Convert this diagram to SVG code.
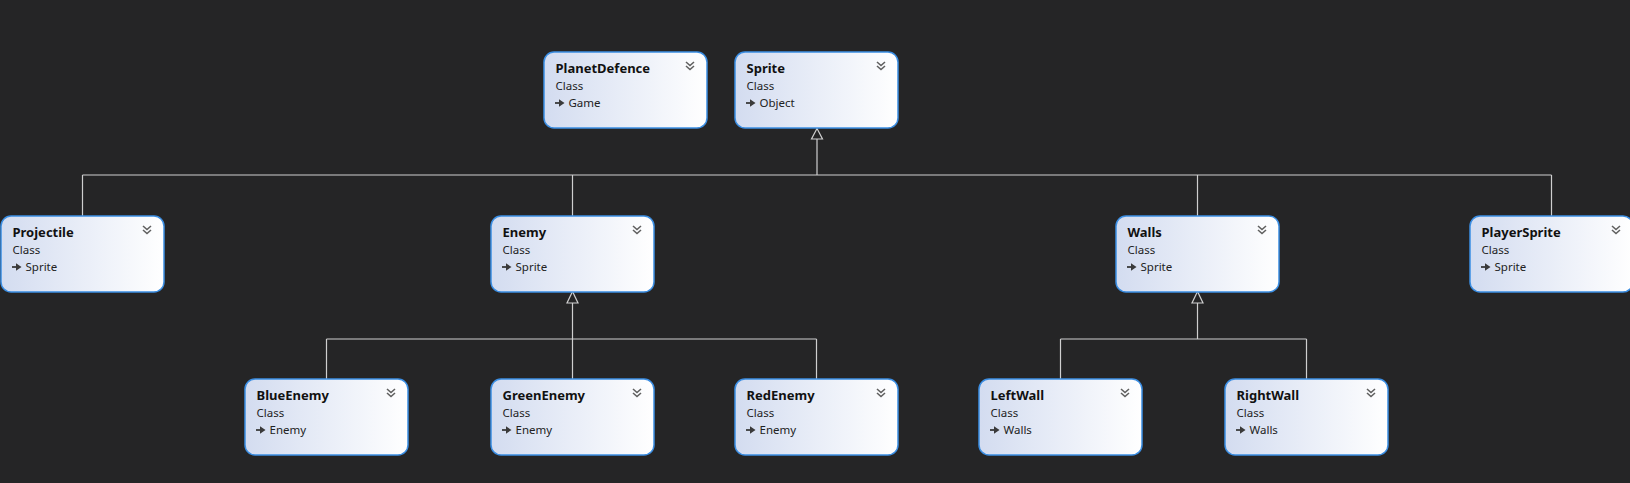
<svg xmlns="http://www.w3.org/2000/svg" width="1630" height="483" viewBox="0 0 1630 483">
<defs>
<linearGradient id="g" x1="0" y1="0" x2="1" y2="0">
<stop offset="0" stop-color="#d3dcf0"/>
<stop offset="1" stop-color="#ffffff"/>
</linearGradient>
<symbol id="chev" viewBox="0 0 10 10" overflow="visible">
<polyline points="0,0 4,3.5 8,0" fill="none" stroke="#606060" stroke-width="1.6"/>
<polyline points="0,4 4,7.5 8,4" fill="none" stroke="#606060" stroke-width="1.6"/>
</symbol>
<symbol id="arr" viewBox="0 0 10 10" overflow="visible">
<path d="M0,4.5 H5" stroke="#3a3a3a" stroke-width="1.8"/>
<path d="M4,0.8 L9.5,4.5 L4,8.2 Z" fill="#3a3a3a"/>
</symbol>
</defs>
<style>
.box{fill:url(#g);stroke:#3b8ee3;stroke-width:1.5}
.t{font-family:"Noto Sans","Open Sans",sans-serif;font-size:13px;font-weight:bold;fill:#111}
.s{font-family:"Noto Sans","Open Sans",sans-serif;font-size:11.5px;fill:#222}
.ln{fill:none;stroke:#cfcfcf;stroke-width:1.2}
.tri{fill:#252526;stroke:#cfcfcf;stroke-width:1.2}
</style>
<rect width="1630" height="483" fill="#252526"/>
<g id="connectors">
<path class="ln" d="M817,139 V175 M82.5,175 H1551.5 M82.5,175 V216 M572.5,175 V216 M1197.5,175 V216 M1551.5,175 V216"/>
<polygon class="tri" points="817,128.5 811.5,139 822.5,139"/>
<path class="ln" d="M572.5,303 V379 M326.5,339 H816.5 M326.5,339 V379 M816.5,339 V379"/>
<polygon class="tri" points="572.5,291.5 567,303 578,303"/>
<path class="ln" d="M1197.5,303 V339 M1060.5,339 H1306.5 M1060.5,339 V379 M1306.5,339 V379"/>
<polygon class="tri" points="1197.5,291.5 1192,303 1203,303"/>
</g>
<g id="PlanetDefence" transform="translate(544,52)">
<rect class="box" width="163" height="76" rx="10"/>
<text class="t" x="11.5" y="20.5">PlanetDefence</text>
<text class="s" x="11.5" y="37.5">Class</text>
<use href="#arr" x="11" y="46.5" width="10" height="10"/>
<text class="s" x="24.5" y="55">Game</text>
<use href="#chev" x="142" y="10" width="10" height="10"/>
</g>
<g id="Sprite" transform="translate(735,52)">
<rect class="box" width="163" height="76" rx="10"/>
<text class="t" x="11.5" y="20.5">Sprite</text>
<text class="s" x="11.5" y="37.5">Class</text>
<use href="#arr" x="11" y="46.5" width="10" height="10"/>
<text class="s" x="24.5" y="55">Object</text>
<use href="#chev" x="142" y="10" width="10" height="10"/>
</g>
<g id="Projectile" transform="translate(1,216)">
<rect class="box" width="163" height="76" rx="10"/>
<text class="t" x="11.5" y="20.5">Projectile</text>
<text class="s" x="11.5" y="37.5">Class</text>
<use href="#arr" x="11" y="46.5" width="10" height="10"/>
<text class="s" x="24.5" y="55">Sprite</text>
<use href="#chev" x="142" y="10" width="10" height="10"/>
</g>
<g id="Enemy" transform="translate(491,216)">
<rect class="box" width="163" height="76" rx="10"/>
<text class="t" x="11.5" y="20.5">Enemy</text>
<text class="s" x="11.5" y="37.5">Class</text>
<use href="#arr" x="11" y="46.5" width="10" height="10"/>
<text class="s" x="24.5" y="55">Sprite</text>
<use href="#chev" x="142" y="10" width="10" height="10"/>
</g>
<g id="Walls" transform="translate(1116,216)">
<rect class="box" width="163" height="76" rx="10"/>
<text class="t" x="11.5" y="20.5">Walls</text>
<text class="s" x="11.5" y="37.5">Class</text>
<use href="#arr" x="11" y="46.5" width="10" height="10"/>
<text class="s" x="24.5" y="55">Sprite</text>
<use href="#chev" x="142" y="10" width="10" height="10"/>
</g>
<g id="PlayerSprite" transform="translate(1470,216)">
<rect class="box" width="163" height="76" rx="10"/>
<text class="t" x="11.5" y="20.5">PlayerSprite</text>
<text class="s" x="11.5" y="37.5">Class</text>
<use href="#arr" x="11" y="46.5" width="10" height="10"/>
<text class="s" x="24.5" y="55">Sprite</text>
<use href="#chev" x="142" y="10" width="10" height="10"/>
</g>
<g id="BlueEnemy" transform="translate(245,379)">
<rect class="box" width="163" height="76" rx="10"/>
<text class="t" x="11.5" y="20.5">BlueEnemy</text>
<text class="s" x="11.5" y="37.5">Class</text>
<use href="#arr" x="11" y="46.5" width="10" height="10"/>
<text class="s" x="24.5" y="55">Enemy</text>
<use href="#chev" x="142" y="10" width="10" height="10"/>
</g>
<g id="GreenEnemy" transform="translate(491,379)">
<rect class="box" width="163" height="76" rx="10"/>
<text class="t" x="11.5" y="20.5">GreenEnemy</text>
<text class="s" x="11.5" y="37.5">Class</text>
<use href="#arr" x="11" y="46.5" width="10" height="10"/>
<text class="s" x="24.5" y="55">Enemy</text>
<use href="#chev" x="142" y="10" width="10" height="10"/>
</g>
<g id="RedEnemy" transform="translate(735,379)">
<rect class="box" width="163" height="76" rx="10"/>
<text class="t" x="11.5" y="20.5">RedEnemy</text>
<text class="s" x="11.5" y="37.5">Class</text>
<use href="#arr" x="11" y="46.5" width="10" height="10"/>
<text class="s" x="24.5" y="55">Enemy</text>
<use href="#chev" x="142" y="10" width="10" height="10"/>
</g>
<g id="LeftWall" transform="translate(979,379)">
<rect class="box" width="163" height="76" rx="10"/>
<text class="t" x="11.5" y="20.5">LeftWall</text>
<text class="s" x="11.5" y="37.5">Class</text>
<use href="#arr" x="11" y="46.5" width="10" height="10"/>
<text class="s" x="24.5" y="55">Walls</text>
<use href="#chev" x="142" y="10" width="10" height="10"/>
</g>
<g id="RightWall" transform="translate(1225,379)">
<rect class="box" width="163" height="76" rx="10"/>
<text class="t" x="11.5" y="20.5">RightWall</text>
<text class="s" x="11.5" y="37.5">Class</text>
<use href="#arr" x="11" y="46.5" width="10" height="10"/>
<text class="s" x="24.5" y="55">Walls</text>
<use href="#chev" x="142" y="10" width="10" height="10"/>
</g>
</svg>
